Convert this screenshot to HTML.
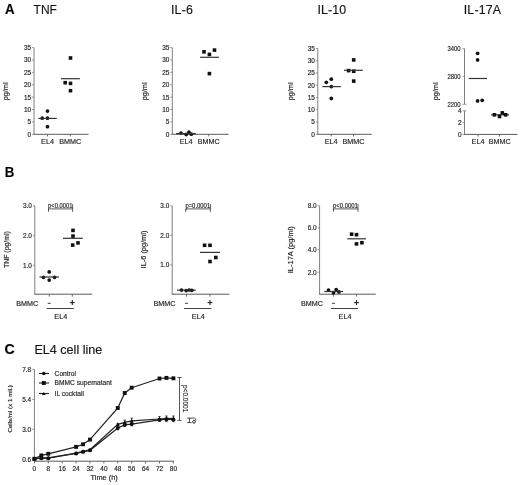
<!DOCTYPE html>
<html><head><meta charset="utf-8"><style>
html,body{margin:0;padding:0;background:#fff;}
svg{display:block;font-family:"Liberation Sans",sans-serif;filter:grayscale(1) blur(0.25px);}
text{stroke:#333;stroke-width:0.18px;}
</style></head><body>
<svg width="520" height="485" viewBox="0 0 520 485">
<rect width="520" height="485" fill="#fff"/>
<text x="4.9" y="13.8" font-size="14.2" text-anchor="start" font-weight="bold" fill="#000" textLength="9.6" lengthAdjust="spacingAndGlyphs">A</text>
<text x="33.6" y="13.5" font-size="12" text-anchor="start" fill="#111">TNF</text>
<text x="171.0" y="13.6" font-size="12.4" text-anchor="start" fill="#111" textLength="21.9">IL-6</text>
<text x="317.5" y="13.6" font-size="12.4" text-anchor="start" fill="#111" textLength="28.6">IL-10</text>
<text x="463.7" y="13.6" font-size="12.4" text-anchor="start" fill="#111" textLength="37.4">IL-17A</text>
<text x="4.7" y="177.0" font-size="14.2" text-anchor="start" font-weight="bold" fill="#000" textLength="9.6" lengthAdjust="spacingAndGlyphs">B</text>
<text x="4.6" y="353.7" font-size="14.2" text-anchor="start" font-weight="bold" fill="#000" textLength="10.2" lengthAdjust="spacingAndGlyphs">C</text>
<text x="34.4" y="353.6" font-size="12.6" text-anchor="start" fill="#111">EL4 cell line</text>
<line x1="34" y1="47.6" x2="34" y2="134.3" stroke="#808080" stroke-width="1"/>
<line x1="33.5" y1="134.3" x2="88.5" y2="134.3" stroke="#5a5a5a" stroke-width="1"/>
<line x1="32" y1="134.3" x2="34" y2="134.3" stroke="#808080" stroke-width="0.8"/>
<text x="31.1" y="136.75" font-size="6.45" text-anchor="end" fill="#222">0</text>
<line x1="32" y1="121.91428571428573" x2="34" y2="121.91428571428573" stroke="#808080" stroke-width="0.8"/>
<text x="31.1" y="124.36428571428573" font-size="6.45" text-anchor="end" fill="#222">5</text>
<line x1="32" y1="109.52857142857144" x2="34" y2="109.52857142857144" stroke="#808080" stroke-width="0.8"/>
<text x="31.1" y="111.97857142857144" font-size="6.45" text-anchor="end" fill="#222">10</text>
<line x1="32" y1="97.14285714285714" x2="34" y2="97.14285714285714" stroke="#808080" stroke-width="0.8"/>
<text x="31.1" y="99.59285714285714" font-size="6.45" text-anchor="end" fill="#222">15</text>
<line x1="32" y1="84.75714285714285" x2="34" y2="84.75714285714285" stroke="#808080" stroke-width="0.8"/>
<text x="31.1" y="87.20714285714286" font-size="6.45" text-anchor="end" fill="#222">20</text>
<line x1="32" y1="72.37142857142857" x2="34" y2="72.37142857142857" stroke="#808080" stroke-width="0.8"/>
<text x="31.1" y="74.82142857142857" font-size="6.45" text-anchor="end" fill="#222">25</text>
<line x1="32" y1="59.98571428571428" x2="34" y2="59.98571428571428" stroke="#808080" stroke-width="0.8"/>
<text x="31.1" y="62.43571428571428" font-size="6.45" text-anchor="end" fill="#222">30</text>
<line x1="32" y1="47.599999999999994" x2="34" y2="47.599999999999994" stroke="#808080" stroke-width="0.8"/>
<text x="31.1" y="50.05" font-size="6.45" text-anchor="end" fill="#222">35</text>
<line x1="47.5" y1="134.3" x2="47.5" y2="136.5" stroke="#5a5a5a" stroke-width="0.9"/>
<line x1="70.3" y1="134.3" x2="70.3" y2="136.5" stroke="#5a5a5a" stroke-width="0.9"/>
<text x="47.5" y="143.7" font-size="7.2" text-anchor="middle" fill="#222">EL4</text>
<text x="70.3" y="143.7" font-size="7.2" text-anchor="middle" fill="#222">BMMC</text>
<text x="8.1" y="91.4" font-size="7.3" text-anchor="middle" fill="#222" transform="rotate(-90 8.1 91.4)">pg/ml</text>
<circle cx="47.5" cy="111.1" r="1.85" fill="#111"/>
<circle cx="42.2" cy="118.2" r="1.85" fill="#111"/>
<circle cx="47.5" cy="118.2" r="1.85" fill="#111"/>
<circle cx="47.5" cy="126.7" r="1.85" fill="#111"/>
<line x1="38.4" y1="118.4" x2="56.8" y2="118.4" stroke="#333" stroke-width="1.2"/>
<rect x="68.7" y="56.2" width="3.6" height="3.6" fill="#111"/>
<rect x="63.400000000000006" y="80.9" width="3.6" height="3.6" fill="#111"/>
<rect x="68.7" y="81.60000000000001" width="3.6" height="3.6" fill="#111"/>
<rect x="68.7" y="88.9" width="3.6" height="3.6" fill="#111"/>
<line x1="60.9" y1="78.7" x2="79.9" y2="78.7" stroke="#333" stroke-width="1.2"/>
<line x1="172.3" y1="47.6" x2="172.3" y2="134.3" stroke="#808080" stroke-width="1"/>
<line x1="171.8" y1="134.3" x2="228.5" y2="134.3" stroke="#5a5a5a" stroke-width="1"/>
<line x1="170.3" y1="134.3" x2="172.3" y2="134.3" stroke="#808080" stroke-width="0.8"/>
<text x="169.4" y="136.75" font-size="6.45" text-anchor="end" fill="#222">0</text>
<line x1="170.3" y1="121.91428571428573" x2="172.3" y2="121.91428571428573" stroke="#808080" stroke-width="0.8"/>
<text x="169.4" y="124.36428571428573" font-size="6.45" text-anchor="end" fill="#222">5</text>
<line x1="170.3" y1="109.52857142857144" x2="172.3" y2="109.52857142857144" stroke="#808080" stroke-width="0.8"/>
<text x="169.4" y="111.97857142857144" font-size="6.45" text-anchor="end" fill="#222">10</text>
<line x1="170.3" y1="97.14285714285714" x2="172.3" y2="97.14285714285714" stroke="#808080" stroke-width="0.8"/>
<text x="169.4" y="99.59285714285714" font-size="6.45" text-anchor="end" fill="#222">15</text>
<line x1="170.3" y1="84.75714285714285" x2="172.3" y2="84.75714285714285" stroke="#808080" stroke-width="0.8"/>
<text x="169.4" y="87.20714285714286" font-size="6.45" text-anchor="end" fill="#222">20</text>
<line x1="170.3" y1="72.37142857142857" x2="172.3" y2="72.37142857142857" stroke="#808080" stroke-width="0.8"/>
<text x="169.4" y="74.82142857142857" font-size="6.45" text-anchor="end" fill="#222">25</text>
<line x1="170.3" y1="59.98571428571428" x2="172.3" y2="59.98571428571428" stroke="#808080" stroke-width="0.8"/>
<text x="169.4" y="62.43571428571428" font-size="6.45" text-anchor="end" fill="#222">30</text>
<line x1="170.3" y1="47.599999999999994" x2="172.3" y2="47.599999999999994" stroke="#808080" stroke-width="0.8"/>
<text x="169.4" y="50.05" font-size="6.45" text-anchor="end" fill="#222">35</text>
<line x1="186.2" y1="134.3" x2="186.2" y2="136.5" stroke="#5a5a5a" stroke-width="0.9"/>
<line x1="208.8" y1="134.3" x2="208.8" y2="136.5" stroke="#5a5a5a" stroke-width="0.9"/>
<text x="186.2" y="143.7" font-size="7.2" text-anchor="middle" fill="#222">EL4</text>
<text x="208.8" y="143.7" font-size="7.2" text-anchor="middle" fill="#222">BMMC</text>
<text x="146.6" y="91.4" font-size="7.3" text-anchor="middle" fill="#222" transform="rotate(-90 146.6 91.4)">pg/ml</text>
<circle cx="181" cy="133" r="1.85" fill="#111"/>
<circle cx="186.2" cy="134.4" r="1.85" fill="#111"/>
<circle cx="188.9" cy="132.2" r="1.85" fill="#111"/>
<circle cx="191.3" cy="134.2" r="1.85" fill="#111"/>
<line x1="176" y1="133.6" x2="196" y2="133.6" stroke="#333" stroke-width="1.2"/>
<rect x="202.2" y="50.0" width="3.6" height="3.6" fill="#111"/>
<rect x="207.6" y="52.6" width="3.6" height="3.6" fill="#111"/>
<rect x="212.7" y="48.300000000000004" width="3.6" height="3.6" fill="#111"/>
<rect x="207.6" y="71.8" width="3.6" height="3.6" fill="#111"/>
<line x1="200.1" y1="57.3" x2="218.9" y2="57.3" stroke="#333" stroke-width="1.2"/>
<line x1="317.8" y1="48.5" x2="317.8" y2="134.3" stroke="#808080" stroke-width="1"/>
<line x1="317.3" y1="134.3" x2="371.7" y2="134.3" stroke="#5a5a5a" stroke-width="1"/>
<line x1="315.8" y1="134.3" x2="317.8" y2="134.3" stroke="#808080" stroke-width="0.8"/>
<text x="314.90000000000003" y="136.75" font-size="6.45" text-anchor="end" fill="#222">0</text>
<line x1="315.8" y1="122.04285714285716" x2="317.8" y2="122.04285714285716" stroke="#808080" stroke-width="0.8"/>
<text x="314.90000000000003" y="124.49285714285716" font-size="6.45" text-anchor="end" fill="#222">5</text>
<line x1="315.8" y1="109.78571428571429" x2="317.8" y2="109.78571428571429" stroke="#808080" stroke-width="0.8"/>
<text x="314.90000000000003" y="112.2357142857143" font-size="6.45" text-anchor="end" fill="#222">10</text>
<line x1="315.8" y1="97.52857142857144" x2="317.8" y2="97.52857142857144" stroke="#808080" stroke-width="0.8"/>
<text x="314.90000000000003" y="99.97857142857144" font-size="6.45" text-anchor="end" fill="#222">15</text>
<line x1="315.8" y1="85.27142857142857" x2="317.8" y2="85.27142857142857" stroke="#808080" stroke-width="0.8"/>
<text x="314.90000000000003" y="87.72142857142858" font-size="6.45" text-anchor="end" fill="#222">20</text>
<line x1="315.8" y1="73.0142857142857" x2="317.8" y2="73.0142857142857" stroke="#808080" stroke-width="0.8"/>
<text x="314.90000000000003" y="75.46428571428571" font-size="6.45" text-anchor="end" fill="#222">25</text>
<line x1="315.8" y1="60.75714285714285" x2="317.8" y2="60.75714285714285" stroke="#808080" stroke-width="0.8"/>
<text x="314.90000000000003" y="63.207142857142856" font-size="6.45" text-anchor="end" fill="#222">30</text>
<line x1="315.8" y1="48.5" x2="317.8" y2="48.5" stroke="#808080" stroke-width="0.8"/>
<text x="314.90000000000003" y="50.95" font-size="6.45" text-anchor="end" fill="#222">35</text>
<line x1="331.2" y1="134.3" x2="331.2" y2="136.5" stroke="#5a5a5a" stroke-width="0.9"/>
<line x1="353.5" y1="134.3" x2="353.5" y2="136.5" stroke="#5a5a5a" stroke-width="0.9"/>
<text x="331.2" y="143.7" font-size="7.2" text-anchor="middle" fill="#222">EL4</text>
<text x="353.5" y="143.7" font-size="7.2" text-anchor="middle" fill="#222">BMMC</text>
<text x="293.4" y="91.4" font-size="7.3" text-anchor="middle" fill="#222" transform="rotate(-90 293.4 91.4)">pg/ml</text>
<circle cx="326.3" cy="82.3" r="1.85" fill="#111"/>
<circle cx="331.3" cy="79.2" r="1.85" fill="#111"/>
<circle cx="331.3" cy="86.6" r="1.85" fill="#111"/>
<circle cx="331.3" cy="98.4" r="1.85" fill="#111"/>
<line x1="322.4" y1="86.6" x2="340.8" y2="86.6" stroke="#333" stroke-width="1.2"/>
<rect x="346.8" y="68.8" width="3.6" height="3.6" fill="#111"/>
<rect x="351.9" y="58.1" width="3.6" height="3.6" fill="#111"/>
<rect x="351.9" y="69.4" width="3.6" height="3.6" fill="#111"/>
<rect x="351.9" y="79.3" width="3.6" height="3.6" fill="#111"/>
<line x1="344" y1="70.3" x2="362.8" y2="70.3" stroke="#333" stroke-width="1.2"/>
<line x1="464.5" y1="48.6" x2="464.5" y2="104.3" stroke="#808080" stroke-width="1"/>
<line x1="464.5" y1="110.8" x2="464.5" y2="134.4" stroke="#808080" stroke-width="1"/>
<line x1="464.5" y1="104.3" x2="466.4" y2="104.3" stroke="#808080" stroke-width="0.8"/>
<line x1="464.5" y1="110.8" x2="466.4" y2="110.8" stroke="#808080" stroke-width="0.8"/>
<line x1="464.0" y1="134.4" x2="517.5" y2="134.4" stroke="#5a5a5a" stroke-width="1"/>
<line x1="462.5" y1="48.7" x2="464.5" y2="48.7" stroke="#808080" stroke-width="0.8"/>
<text x="460.6" y="51.300000000000004" font-size="7.0" text-anchor="end" fill="#222" textLength="13.0" lengthAdjust="spacingAndGlyphs">3400</text>
<line x1="462.5" y1="76.4" x2="464.5" y2="76.4" stroke="#808080" stroke-width="0.8"/>
<text x="460.6" y="79.0" font-size="7.0" text-anchor="end" fill="#222" textLength="13.0" lengthAdjust="spacingAndGlyphs">2800</text>
<line x1="462.5" y1="104.3" x2="464.5" y2="104.3" stroke="#808080" stroke-width="0.8"/>
<text x="460.6" y="106.89999999999999" font-size="7.0" text-anchor="end" fill="#222" textLength="13.0" lengthAdjust="spacingAndGlyphs">2200</text>
<line x1="462.5" y1="110.8" x2="464.5" y2="110.8" stroke="#808080" stroke-width="0.8"/>
<text x="461.6" y="113.25" font-size="6.45" text-anchor="end" fill="#222">4</text>
<line x1="462.5" y1="122.6" x2="464.5" y2="122.6" stroke="#808080" stroke-width="0.8"/>
<text x="461.6" y="125.05" font-size="6.45" text-anchor="end" fill="#222">2</text>
<line x1="462.5" y1="134.4" x2="464.5" y2="134.4" stroke="#808080" stroke-width="0.8"/>
<text x="461.6" y="136.85" font-size="6.45" text-anchor="end" fill="#222">0</text>
<line x1="478" y1="134.4" x2="478" y2="136.6" stroke="#5a5a5a" stroke-width="0.9"/>
<line x1="499.5" y1="134.4" x2="499.5" y2="136.6" stroke="#5a5a5a" stroke-width="0.9"/>
<text x="478" y="143.7" font-size="7.2" text-anchor="middle" fill="#222">EL4</text>
<text x="499.8" y="143.7" font-size="7.2" text-anchor="middle" fill="#222">BMMC</text>
<text x="438.4" y="91.4" font-size="7.3" text-anchor="middle" fill="#222" transform="rotate(-90 438.4 91.4)">pg/ml</text>
<circle cx="477.6" cy="53.3" r="1.85" fill="#111"/>
<circle cx="477.6" cy="59.9" r="1.85" fill="#111"/>
<circle cx="477.6" cy="100.9" r="1.85" fill="#111"/>
<circle cx="482.2" cy="100.3" r="1.85" fill="#111"/>
<line x1="468.7" y1="78.5" x2="487" y2="78.5" stroke="#333" stroke-width="1.2"/>
<line x1="491.1" y1="114.8" x2="508.9" y2="114.8" stroke="#333" stroke-width="1.2"/>
<rect x="492.59999999999997" y="113.0" width="3.6" height="3.6" fill="#111"/>
<rect x="497.7" y="114.7" width="3.6" height="3.6" fill="#111"/>
<rect x="500.5" y="111.10000000000001" width="3.6" height="3.6" fill="#111"/>
<rect x="503.8" y="113.0" width="3.6" height="3.6" fill="#111"/>
<line x1="34.8" y1="205.8" x2="34.8" y2="294.2" stroke="#808080" stroke-width="1"/>
<line x1="34.3" y1="294.2" x2="92.2" y2="294.2" stroke="#5a5a5a" stroke-width="1"/>
<line x1="32.8" y1="205.8" x2="34.8" y2="205.8" stroke="#808080" stroke-width="0.8"/>
<text x="31.9" y="208.20000000000002" font-size="6.45" text-anchor="end" fill="#222">3.0</text>
<line x1="32.8" y1="235.7" x2="34.8" y2="235.7" stroke="#808080" stroke-width="0.8"/>
<text x="31.9" y="238.1" font-size="6.45" text-anchor="end" fill="#222">2.0</text>
<line x1="32.8" y1="265.2" x2="34.8" y2="265.2" stroke="#808080" stroke-width="0.8"/>
<text x="31.9" y="267.59999999999997" font-size="6.45" text-anchor="end" fill="#222">1.0</text>
<line x1="49.2" y1="294.2" x2="49.2" y2="296.59999999999997" stroke="#5a5a5a" stroke-width="0.9"/>
<line x1="72.3" y1="294.2" x2="72.3" y2="296.59999999999997" stroke="#5a5a5a" stroke-width="0.9"/>
<text x="38.099999999999994" y="305.6" font-size="7.2" text-anchor="end" fill="#222">BMMC</text>
<line x1="47.800000000000004" y1="303.3" x2="50.6" y2="303.3" stroke="#333" stroke-width="1.0"/>
<line x1="69.89999999999999" y1="302.6" x2="74.7" y2="302.6" stroke="#222" stroke-width="1.1"/>
<line x1="72.3" y1="300.1" x2="72.3" y2="305.1" stroke="#222" stroke-width="1.1"/>
<line x1="46.7" y1="308.5" x2="73.8" y2="308.5" stroke="#444" stroke-width="1"/>
<text x="60.75" y="318.6" font-size="7.2" text-anchor="middle" fill="#222">EL4</text>
<text x="8.7" y="249.6" font-size="6.9" text-anchor="middle" fill="#222" transform="rotate(-90 8.7 249.6)">TNF (pg/ml)</text>
<text x="48.1" y="208.3" font-size="6.8" text-anchor="start" fill="#222" textLength="24.3" lengthAdjust="spacingAndGlyphs">p&lt;0.0001</text>
<path d="M48.5,211.8 L48.5,208.9 L72.6,208.9 L72.6,211.8" stroke="#333" stroke-width="0.8" fill="none"/>
<line x1="72.6" y1="204.2" x2="72.6" y2="209" stroke="#333" stroke-width="0.8"/>
<circle cx="49.2" cy="271.9" r="1.85" fill="#111"/>
<circle cx="43.5" cy="277.3" r="1.85" fill="#111"/>
<circle cx="54.6" cy="277.3" r="1.85" fill="#111"/>
<circle cx="49.2" cy="280.1" r="1.85" fill="#111"/>
<line x1="39.5" y1="277" x2="58.9" y2="277" stroke="#333" stroke-width="1.2"/>
<rect x="71.2" y="228.6" width="3.6" height="3.6" fill="#111"/>
<rect x="71.2" y="234.29999999999998" width="3.6" height="3.6" fill="#111"/>
<rect x="70.9" y="243.29999999999998" width="3.6" height="3.6" fill="#111"/>
<rect x="76.2" y="241.1" width="3.6" height="3.6" fill="#111"/>
<line x1="63" y1="238.3" x2="82.8" y2="238.3" stroke="#333" stroke-width="1.2"/>
<line x1="172.2" y1="205.8" x2="172.2" y2="294.2" stroke="#808080" stroke-width="1"/>
<line x1="171.7" y1="294.2" x2="229.3" y2="294.2" stroke="#5a5a5a" stroke-width="1"/>
<line x1="170.2" y1="205.8" x2="172.2" y2="205.8" stroke="#808080" stroke-width="0.8"/>
<text x="169.29999999999998" y="208.20000000000002" font-size="6.45" text-anchor="end" fill="#222">3.0</text>
<line x1="170.2" y1="235.4" x2="172.2" y2="235.4" stroke="#808080" stroke-width="0.8"/>
<text x="169.29999999999998" y="237.8" font-size="6.45" text-anchor="end" fill="#222">2.0</text>
<line x1="170.2" y1="264.9" x2="172.2" y2="264.9" stroke="#808080" stroke-width="0.8"/>
<text x="169.29999999999998" y="267.29999999999995" font-size="6.45" text-anchor="end" fill="#222">1.0</text>
<line x1="186.5" y1="294.2" x2="186.5" y2="296.59999999999997" stroke="#5a5a5a" stroke-width="0.9"/>
<line x1="210" y1="294.2" x2="210" y2="296.59999999999997" stroke="#5a5a5a" stroke-width="0.9"/>
<text x="175.5" y="305.6" font-size="7.2" text-anchor="end" fill="#222">BMMC</text>
<line x1="185.1" y1="303.3" x2="187.9" y2="303.3" stroke="#333" stroke-width="1.0"/>
<line x1="207.6" y1="302.6" x2="212.4" y2="302.6" stroke="#222" stroke-width="1.1"/>
<line x1="210" y1="300.1" x2="210" y2="305.1" stroke="#222" stroke-width="1.1"/>
<line x1="184.0" y1="308.5" x2="211.5" y2="308.5" stroke="#444" stroke-width="1"/>
<text x="198.25" y="318.6" font-size="7.2" text-anchor="middle" fill="#222">EL4</text>
<text x="145.6" y="249.5" font-size="7.4" text-anchor="middle" fill="#222" transform="rotate(-90 145.6 249.5)">IL-6 (pg/ml)</text>
<text x="185.4" y="208.3" font-size="6.8" text-anchor="start" fill="#222" textLength="24.8" lengthAdjust="spacingAndGlyphs">p=0.0001</text>
<path d="M185.8,211.8 L185.8,208.9 L210.4,208.9 L210.4,211.8" stroke="#333" stroke-width="0.8" fill="none"/>
<line x1="210.4" y1="204.2" x2="210.4" y2="209" stroke="#333" stroke-width="0.8"/>
<circle cx="181.5" cy="290.1" r="1.85" fill="#111"/>
<circle cx="186.2" cy="290.6" r="1.85" fill="#111"/>
<circle cx="189.2" cy="290.0" r="1.85" fill="#111"/>
<circle cx="191.8" cy="290.3" r="1.85" fill="#111"/>
<line x1="177" y1="290.1" x2="195.8" y2="290.1" stroke="#333" stroke-width="1.2"/>
<rect x="202.79999999999998" y="243.5" width="3.6" height="3.6" fill="#111"/>
<rect x="208.2" y="243.5" width="3.6" height="3.6" fill="#111"/>
<rect x="208.2" y="259.7" width="3.6" height="3.6" fill="#111"/>
<rect x="214.0" y="255.7" width="3.6" height="3.6" fill="#111"/>
<line x1="200" y1="252.4" x2="220" y2="252.4" stroke="#333" stroke-width="1.2"/>
<line x1="319.6" y1="205.8" x2="319.6" y2="294.2" stroke="#808080" stroke-width="1"/>
<line x1="319.1" y1="294.2" x2="375.8" y2="294.2" stroke="#5a5a5a" stroke-width="1"/>
<line x1="317.6" y1="205.8" x2="319.6" y2="205.8" stroke="#808080" stroke-width="0.8"/>
<text x="316.70000000000005" y="208.20000000000002" font-size="6.45" text-anchor="end" fill="#222">8.0</text>
<line x1="317.6" y1="227.8" x2="319.6" y2="227.8" stroke="#808080" stroke-width="0.8"/>
<text x="316.70000000000005" y="230.20000000000002" font-size="6.45" text-anchor="end" fill="#222">6.0</text>
<line x1="317.6" y1="249.6" x2="319.6" y2="249.6" stroke="#808080" stroke-width="0.8"/>
<text x="316.70000000000005" y="252.0" font-size="6.45" text-anchor="end" fill="#222">4.0</text>
<line x1="317.6" y1="272.2" x2="319.6" y2="272.2" stroke="#808080" stroke-width="0.8"/>
<text x="316.70000000000005" y="274.59999999999997" font-size="6.45" text-anchor="end" fill="#222">2.0</text>
<line x1="333.5" y1="294.2" x2="333.5" y2="296.59999999999997" stroke="#5a5a5a" stroke-width="0.9"/>
<line x1="356.5" y1="294.2" x2="356.5" y2="296.59999999999997" stroke="#5a5a5a" stroke-width="0.9"/>
<text x="322.90000000000003" y="305.6" font-size="7.2" text-anchor="end" fill="#222">BMMC</text>
<line x1="332.1" y1="303.3" x2="334.9" y2="303.3" stroke="#333" stroke-width="1.0"/>
<line x1="354.1" y1="302.6" x2="358.9" y2="302.6" stroke="#222" stroke-width="1.1"/>
<line x1="356.5" y1="300.1" x2="356.5" y2="305.1" stroke="#222" stroke-width="1.1"/>
<line x1="331.0" y1="308.5" x2="358.0" y2="308.5" stroke="#444" stroke-width="1"/>
<text x="345.0" y="318.6" font-size="7.2" text-anchor="middle" fill="#222">EL4</text>
<text x="293.1" y="249.7" font-size="7.5" text-anchor="middle" fill="#222" transform="rotate(-90 293.1 249.7)">IL-17A (pg/ml)</text>
<text x="333" y="208.3" font-size="6.8" text-anchor="start" fill="#222" textLength="24.8" lengthAdjust="spacingAndGlyphs">p&lt;0.0001</text>
<path d="M333.4,211.8 L333.4,208.9 L358.0,208.9 L358.0,211.8" stroke="#333" stroke-width="0.8" fill="none"/>
<line x1="358.0" y1="204.2" x2="358.0" y2="209" stroke="#333" stroke-width="0.8"/>
<circle cx="328.5" cy="290.1" r="1.85" fill="#111"/>
<circle cx="333.5" cy="292.7" r="1.85" fill="#111"/>
<circle cx="336.2" cy="289.6" r="1.85" fill="#111"/>
<circle cx="338.9" cy="291.9" r="1.85" fill="#111"/>
<line x1="324.2" y1="291.5" x2="343.1" y2="291.5" stroke="#333" stroke-width="1.2"/>
<rect x="349.8" y="232.39999999999998" width="3.6" height="3.6" fill="#111"/>
<rect x="354.7" y="232.89999999999998" width="3.6" height="3.6" fill="#111"/>
<rect x="354.7" y="242.1" width="3.6" height="3.6" fill="#111"/>
<rect x="360.09999999999997" y="240.89999999999998" width="3.6" height="3.6" fill="#111"/>
<line x1="347.3" y1="238.8" x2="366.1" y2="238.8" stroke="#333" stroke-width="1.2"/>
<line x1="34.4" y1="369.4" x2="34.4" y2="461.2" stroke="#808080" stroke-width="1"/>
<line x1="33.9" y1="461.2" x2="173.9" y2="461.2" stroke="#5a5a5a" stroke-width="1"/>
<line x1="32.199999999999996" y1="369.4" x2="34.4" y2="369.4" stroke="#808080" stroke-width="0.8"/>
<text x="31.2" y="371.79999999999995" font-size="6.45" text-anchor="end" fill="#222">7.8</text>
<line x1="32.199999999999996" y1="399.3333333333333" x2="34.4" y2="399.3333333333333" stroke="#808080" stroke-width="0.8"/>
<text x="31.2" y="401.7333333333333" font-size="6.45" text-anchor="end" fill="#222">5.4</text>
<line x1="32.199999999999996" y1="429.26666666666665" x2="34.4" y2="429.26666666666665" stroke="#808080" stroke-width="0.8"/>
<text x="31.2" y="431.66666666666663" font-size="6.45" text-anchor="end" fill="#222">3.0</text>
<line x1="32.199999999999996" y1="459.2" x2="34.4" y2="459.2" stroke="#808080" stroke-width="0.8"/>
<text x="31.2" y="461.59999999999997" font-size="6.45" text-anchor="end" fill="#222">0.6</text>
<line x1="34.4" y1="461.2" x2="34.4" y2="463.4" stroke="#5a5a5a" stroke-width="0.9"/>
<text x="34.4" y="470.7" font-size="6.45" text-anchor="middle" fill="#222">0</text>
<line x1="48.3" y1="461.2" x2="48.3" y2="463.4" stroke="#5a5a5a" stroke-width="0.9"/>
<text x="48.3" y="470.7" font-size="6.45" text-anchor="middle" fill="#222">8</text>
<line x1="62.2" y1="461.2" x2="62.2" y2="463.4" stroke="#5a5a5a" stroke-width="0.9"/>
<text x="62.2" y="470.7" font-size="6.45" text-anchor="middle" fill="#222">16</text>
<line x1="76.1" y1="461.2" x2="76.1" y2="463.4" stroke="#5a5a5a" stroke-width="0.9"/>
<text x="76.1" y="470.7" font-size="6.45" text-anchor="middle" fill="#222">24</text>
<line x1="90.0" y1="461.2" x2="90.0" y2="463.4" stroke="#5a5a5a" stroke-width="0.9"/>
<text x="90.0" y="470.7" font-size="6.45" text-anchor="middle" fill="#222">32</text>
<line x1="103.9" y1="461.2" x2="103.9" y2="463.4" stroke="#5a5a5a" stroke-width="0.9"/>
<text x="103.9" y="470.7" font-size="6.45" text-anchor="middle" fill="#222">40</text>
<line x1="117.80000000000001" y1="461.2" x2="117.80000000000001" y2="463.4" stroke="#5a5a5a" stroke-width="0.9"/>
<text x="117.80000000000001" y="470.7" font-size="6.45" text-anchor="middle" fill="#222">48</text>
<line x1="131.7" y1="461.2" x2="131.7" y2="463.4" stroke="#5a5a5a" stroke-width="0.9"/>
<text x="131.7" y="470.7" font-size="6.45" text-anchor="middle" fill="#222">56</text>
<line x1="145.6" y1="461.2" x2="145.6" y2="463.4" stroke="#5a5a5a" stroke-width="0.9"/>
<text x="145.6" y="470.7" font-size="6.45" text-anchor="middle" fill="#222">64</text>
<line x1="159.5" y1="461.2" x2="159.5" y2="463.4" stroke="#5a5a5a" stroke-width="0.9"/>
<text x="159.5" y="470.7" font-size="6.45" text-anchor="middle" fill="#222">72</text>
<line x1="173.4" y1="461.2" x2="173.4" y2="463.4" stroke="#5a5a5a" stroke-width="0.9"/>
<text x="173.4" y="470.7" font-size="6.45" text-anchor="middle" fill="#222">80</text>
<text x="104.2" y="480.0" font-size="7.4" text-anchor="middle" fill="#222">Time (h)</text>
<text x="12.0" y="408.9" font-size="6.2" text-anchor="middle" fill="#222" transform="rotate(-90 12.0 408.9)">Cells/ml (x 1 mil.)</text>
<path d="M34.40,458.8 L41.35,455.4 L48.30,453.8 L76.10,446.9 L83.05,444.3 L90.00,439.6 L117.80,408.0 L124.75,393.0 L131.70,387.7 L159.50,378.5 L166.45,377.9 L173.40,378.3" stroke="#222" stroke-width="1.25" fill="none"/>
<path d="M34.40,458.8 L41.35,458.2 L48.30,458.2 L76.10,453.5 L83.05,451.8 L90.00,450.3 L117.80,428.0 L124.75,424.9 L131.70,424.1 L159.50,419.8 L166.45,419.2 L173.40,419.4" stroke="#222" stroke-width="1.25" fill="none"/>
<path d="M34.40,458.8 L41.35,457.8 L48.30,457.8 L76.10,453.2 L83.05,451.4 L90.00,449.8 L117.80,424.4 L124.75,422.3 L131.70,420.8 L159.50,419.0 L166.45,418.4 L173.40,418.6" stroke="#222" stroke-width="1.25" fill="none"/>
<line x1="117.80000000000001" y1="423.4" x2="117.80000000000001" y2="429.8" stroke="#222" stroke-width="0.9"/>
<line x1="116.70000000000002" y1="423.4" x2="118.9" y2="423.4" stroke="#222" stroke-width="0.9"/>
<line x1="116.70000000000002" y1="429.8" x2="118.9" y2="429.8" stroke="#222" stroke-width="0.9"/>
<line x1="124.75" y1="420.2" x2="124.75" y2="426.1" stroke="#222" stroke-width="0.9"/>
<line x1="123.65" y1="420.2" x2="125.85" y2="420.2" stroke="#222" stroke-width="0.9"/>
<line x1="123.65" y1="426.1" x2="125.85" y2="426.1" stroke="#222" stroke-width="0.9"/>
<line x1="131.7" y1="418.2" x2="131.7" y2="425.8" stroke="#222" stroke-width="0.9"/>
<line x1="130.6" y1="418.2" x2="132.79999999999998" y2="418.2" stroke="#222" stroke-width="0.9"/>
<line x1="130.6" y1="425.8" x2="132.79999999999998" y2="425.8" stroke="#222" stroke-width="0.9"/>
<line x1="159.5" y1="416.6" x2="159.5" y2="421.4" stroke="#222" stroke-width="0.9"/>
<line x1="158.4" y1="416.6" x2="160.6" y2="416.6" stroke="#222" stroke-width="0.9"/>
<line x1="158.4" y1="421.4" x2="160.6" y2="421.4" stroke="#222" stroke-width="0.9"/>
<line x1="166.45000000000002" y1="416.0" x2="166.45000000000002" y2="421.6" stroke="#222" stroke-width="0.9"/>
<line x1="165.35000000000002" y1="416.0" x2="167.55" y2="416.0" stroke="#222" stroke-width="0.9"/>
<line x1="165.35000000000002" y1="421.6" x2="167.55" y2="421.6" stroke="#222" stroke-width="0.9"/>
<line x1="173.4" y1="416.0" x2="173.4" y2="421.6" stroke="#222" stroke-width="0.9"/>
<line x1="172.3" y1="416.0" x2="174.5" y2="416.0" stroke="#222" stroke-width="0.9"/>
<line x1="172.3" y1="421.6" x2="174.5" y2="421.6" stroke="#222" stroke-width="0.9"/>
<rect x="32.449999999999996" y="456.85" width="3.9" height="3.9" fill="#111"/>
<rect x="39.4" y="453.45" width="3.9" height="3.9" fill="#111"/>
<rect x="46.349999999999994" y="451.85" width="3.9" height="3.9" fill="#111"/>
<rect x="74.14999999999999" y="444.95" width="3.9" height="3.9" fill="#111"/>
<rect x="81.1" y="442.35" width="3.9" height="3.9" fill="#111"/>
<rect x="88.05" y="437.65000000000003" width="3.9" height="3.9" fill="#111"/>
<rect x="115.85000000000001" y="406.05" width="3.9" height="3.9" fill="#111"/>
<rect x="122.8" y="391.05" width="3.9" height="3.9" fill="#111"/>
<rect x="129.75" y="385.75" width="3.9" height="3.9" fill="#111"/>
<rect x="157.55" y="376.55" width="3.9" height="3.9" fill="#111"/>
<rect x="164.50000000000003" y="375.95" width="3.9" height="3.9" fill="#111"/>
<rect x="171.45000000000002" y="376.35" width="3.9" height="3.9" fill="#111"/>
<circle cx="34.4" cy="458.8" r="2.0" fill="#111"/>
<circle cx="41.35" cy="458.2" r="2.0" fill="#111"/>
<circle cx="48.3" cy="458.2" r="2.0" fill="#111"/>
<circle cx="76.1" cy="453.5" r="2.0" fill="#111"/>
<circle cx="83.05" cy="451.8" r="2.0" fill="#111"/>
<circle cx="90.0" cy="450.3" r="2.0" fill="#111"/>
<circle cx="117.80000000000001" cy="428.0" r="2.0" fill="#111"/>
<circle cx="124.75" cy="424.9" r="2.0" fill="#111"/>
<circle cx="131.7" cy="424.1" r="2.0" fill="#111"/>
<circle cx="159.5" cy="419.8" r="2.0" fill="#111"/>
<circle cx="166.45000000000002" cy="419.2" r="2.0" fill="#111"/>
<circle cx="173.4" cy="419.4" r="2.0" fill="#111"/>
<path d="M32.3,460.58500000000004 L36.5,460.58500000000004 L34.4,457.015 Z" fill="#111"/>
<path d="M39.25,459.58500000000004 L43.45,459.58500000000004 L41.35,456.015 Z" fill="#111"/>
<path d="M46.199999999999996,459.58500000000004 L50.4,459.58500000000004 L48.3,456.015 Z" fill="#111"/>
<path d="M74.0,454.985 L78.19999999999999,454.985 L76.1,451.41499999999996 Z" fill="#111"/>
<path d="M80.95,453.185 L85.14999999999999,453.185 L83.05,449.61499999999995 Z" fill="#111"/>
<path d="M87.9,451.58500000000004 L92.1,451.58500000000004 L90.0,448.015 Z" fill="#111"/>
<path d="M115.70000000000002,426.185 L119.9,426.185 L117.80000000000001,422.61499999999995 Z" fill="#111"/>
<path d="M122.65,424.08500000000004 L126.85,424.08500000000004 L124.75,420.515 Z" fill="#111"/>
<path d="M129.6,422.58500000000004 L133.79999999999998,422.58500000000004 L131.7,419.015 Z" fill="#111"/>
<path d="M157.4,420.785 L161.6,420.785 L159.5,417.215 Z" fill="#111"/>
<path d="M164.35000000000002,420.185 L168.55,420.185 L166.45000000000002,416.61499999999995 Z" fill="#111"/>
<path d="M171.3,420.38500000000005 L175.5,420.38500000000005 L173.4,416.815 Z" fill="#111"/>
<path d="M177.4,377.5 L181.6,377.5 M179.5,377.5 L179.5,420.4 M177.4,420.4 L181.6,420.4" stroke="#444" stroke-width="0.9" fill="none"/>
<text x="182.5" y="385.0" font-size="7.5" text-anchor="start" fill="#222" transform="rotate(90 182.5 385.0)" textLength="27.3" lengthAdjust="spacingAndGlyphs">p&lt;0.0001</text>
<path d="M187.3,418.1 L194.4,418.1 Q195.9,418.3 195.9,420.6 M189.4,418.1 L189.4,422.6 M187.3,422.6 L191.6,422.6" stroke="#333" stroke-width="0.9" fill="none"/>
<circle cx="194" cy="421.8" r="1.4" fill="none" stroke="#333" stroke-width="1"/>
<line x1="39" y1="373.5" x2="49" y2="373.5" stroke="#222" stroke-width="1.1"/>
<circle cx="43.8" cy="373.5" r="1.8" fill="#111"/>
<text x="54.6" y="375.8" font-size="6.65" text-anchor="start" fill="#222">Control</text>
<line x1="39" y1="383.0" x2="49" y2="383.0" stroke="#222" stroke-width="1.1"/>
<rect x="41.849999999999994" y="381.05" width="3.9" height="3.9" fill="#111"/>
<text x="54.6" y="385.3" font-size="6.65" text-anchor="start" fill="#222">BMMC supernatant</text>
<line x1="39" y1="393.5" x2="49" y2="393.5" stroke="#222" stroke-width="1.1"/>
<path d="M41.9,395.115 L45.699999999999996,395.115 L43.8,391.885 Z" fill="#111"/>
<text x="54.6" y="395.8" font-size="6.65" text-anchor="start" fill="#222">IL cocktail</text>
</svg>
</body></html>
